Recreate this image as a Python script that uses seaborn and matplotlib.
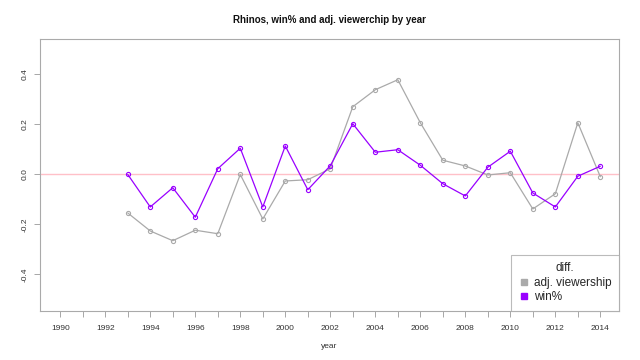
import matplotlib
matplotlib.use("Agg")
import matplotlib.pyplot as plt
from matplotlib.lines import Line2D
import seaborn as sns
import pandas as pd

years = list(range(1993, 2015))
adj_viewership = [-0.154, -0.226, -0.265, -0.223, -0.237, 0.0, -0.178, -0.026, -0.021, 0.023,
                  0.271, 0.339, 0.379, 0.207, 0.057, 0.034, -0.002, 0.007, -0.138, -0.077, 0.207, -0.009]
win_pct = [0.0, -0.13, -0.053, -0.171, 0.023, 0.105, -0.13, 0.114, -0.061, 0.035,
           0.203, 0.089, 0.099, 0.037, -0.037, -0.086, 0.029, 0.093, -0.074, -0.13, -0.007, 0.033]
series_names = ["adj. viewership", "win%"]
series_colors = ["#AAAAAA", "#9900FF"]

df = pd.DataFrame({
    "year": years * 2,
    "value": adj_viewership + win_pct,
    "series": [series_names[0]] * len(years) + [series_names[1]] * len(years),
})

sns.set_theme(style="white")
plt.rcParams["font.family"] = ["Liberation Sans", "DejaVu Sans"]

fig = plt.figure(figsize=(6.4, 3.6), dpi=100)
ax = fig.add_axes([40 / 640, 1 - 310.7 / 360, 579 / 640, 271.7 / 360])

ax.axhline(0, color="#FFC0C8", lw=1, zorder=1)

sns.lineplot(data=df, x="year", y="value", hue="series", palette=series_colors,
             hue_order=series_names, marker="o", markersize=3, linewidth=0.9,
             ax=ax, legend=False, zorder=3)
for ln in ax.lines[1:]:
    c = ln.get_color()
    ln.set_markerfacecolor("none")
    ln.set_markeredgecolor(c)
    ln.set_markeredgewidth(0.8)

ax.set_xlim(1989.1, 2014.83)
ax.set_ylim(-0.545, 0.542)

xt = list(range(1990, 2015))
ax.set_xticks(xt)
ax.set_xticklabels([str(y) if y % 2 == 0 else "" for y in xt], fontsize=6, color="#333333")
yt = [-0.4, -0.2, 0.0, 0.2, 0.4]
ax.set_yticks(yt)
ax.set_yticklabels([f"{v:.1f}" for v in yt], fontsize=6, color="#333333", rotation=90, va="center")
ax.tick_params(axis="x", which="major", length=4, width=0.6, color="#999999",
               bottom=True, direction="out", pad=6)
ax.tick_params(axis="y", which="major", length=4, width=0.6, color="#999999",
               left=True, direction="out", pad=4)

for s in ax.spines.values():
    s.set_visible(True)
    s.set_color("#AAAAAA")
    s.set_linewidth(0.8)

ax.set_xlabel("year", fontsize=6, color="#333333", labelpad=8)
ax.set_ylabel("")
fig.text(329.5 / 640, 1 - 20 / 360, "Rhinos, win% and adj. viewerchip by year", ha="center", va="center",
         fontsize=7, fontweight="bold", color="#111111")

handles = [Line2D([], [], marker="s", linestyle="none", color=c, markersize=5) for c in series_colors]
leg = ax.legend(handles, series_names, title="diff.", loc="lower right", borderaxespad=0,
                fontsize=8.5, title_fontsize=8.5, frameon=True, fancybox=False,
                edgecolor="#AAAAAA", handletextpad=0.3, handlelength=1.0, borderpad=0.65,
                labelspacing=0.2)
leg.get_frame().set_linewidth(0.8)

fig.savefig("out.png", dpi=100)
